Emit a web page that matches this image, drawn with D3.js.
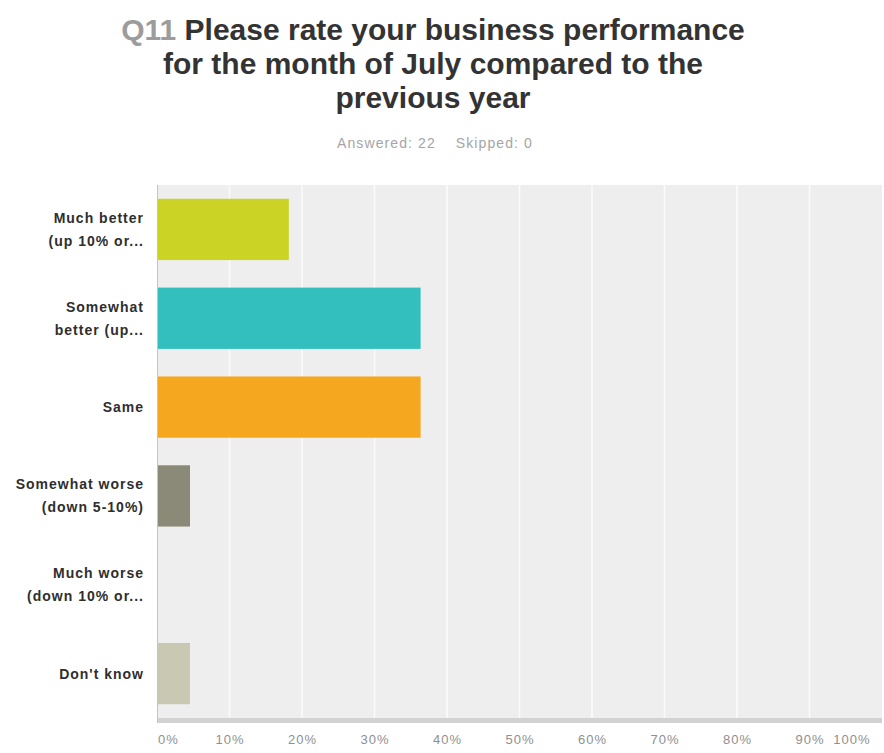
<!DOCTYPE html>
<html>
<head>
<meta charset="utf-8">
<script src="https://cdn.jsdelivr.net/npm/d3@7"></script>
<style>
  body { margin: 0; background: #fff; }
  text { font-family: "Liberation Sans", Arial, sans-serif; }
</style>
</head>
<body>
<div id="container"></div>
<script>
// answer choices, two lines each like the survey tool cuts them
const categories = [
  ["Much better", "(up 10% or..."],
  ["Somewhat", "better (up..."],
  ["Same"],
  ["Somewhat worse", "(down 5-10%)"],
  ["Much worse", "(down 10% or..."],
  ["Don't know"]
];
// share of the 22 answers, in percent
const values = [18.18, 36.36, 36.36, 4.55, 0, 4.55];
const colors = ["#cbd325", "#34bfbf", "#f5a81f", "#8b8a78", "#b5b5a0", "#c9c9b3"];
const ticks = [0, 10, 20, 30, 40, 50, 60, 70, 80, 90, 100];

const titleLines = ["Please rate your business performance", "for the month of July compared to the", "previous year"];
const subtitle = ["Answered: 22", "Skipped: 0"];

const W = 884, H = 753;
const plotLeft = 157, plotRight = 882, plotTop = 185, plotBottom = 718;

const svg = d3.select("#container")
  .append("svg")
  .attr("width", W)
  .attr("height", H);

// title
let title = svg.append("text")
  .attr("text-anchor", "middle")
  .attr("font-size", 30)
  .attr("font-weight", "bold")
  .attr("fill", "#333");
titleLines.forEach((line, i) => {
  let t = title.append("tspan")
    .attr("x", 433)
    .attr("y", 40 + i * 34);
  if (i == 0) {
    t.append("tspan").attr("fill", "#9c9c9c").text("Q11 ");
    t.append("tspan").text(line);
  } else {
    t.text(line);
  }
});

svg.append("text")
  .attr("x", 435)
  .attr("y", 148)
  .attr("text-anchor", "middle")
  .attr("font-size", 14)
  .attr("letter-spacing", 1.1)
  .attr("fill", "#a5a5a5")
  .text(subtitle.join("\u00a0\u00a0\u00a0\u00a0"));

let x = d3.scaleLinear().domain([0, 100]).range([plotLeft, plotRight]);
let y = d3.scaleBand()
  .domain(d3.range(categories.length))
  .range([plotTop, plotBottom])
  .paddingInner(0.31)
  .paddingOuter(0.155);

// grey plot background
svg.append("rect")
  .attr("x", plotLeft)
  .attr("y", plotTop)
  .attr("width", plotRight - plotLeft)
  .attr("height", plotBottom - plotTop)
  .attr("fill", "#eeeeee");

// vertical grid
svg.selectAll(".grid")
  .data(ticks.slice(1, -1))
  .enter()
  .append("line")
  .attr("class", "grid")
  .attr("x1", d => x(d))
  .attr("x2", d => x(d))
  .attr("y1", plotTop)
  .attr("y2", plotBottom)
  .attr("stroke", "#fbfbfb")
  .attr("stroke-width", 1.5);

// bars
svg.selectAll(".bar")
  .data(values)
  .enter()
  .append("rect")
  .attr("class", "bar")
  .attr("x", x(0))
  .attr("y", (d, i) => y(i))
  .attr("width", d => x(d) - x(0))
  .attr("height", y.bandwidth())
  .attr("fill", (d, i) => colors[i]);

// bottom band and left axis line
svg.append("rect")
  .attr("x", plotLeft)
  .attr("y", plotBottom)
  .attr("width", plotRight - plotLeft)
  .attr("height", 5)
  .attr("fill", "#d2d2d2");
svg.append("line")
  .attr("x1", plotLeft + 0.5)
  .attr("x2", plotLeft + 0.5)
  .attr("y1", plotTop)
  .attr("y2", plotBottom + 5)
  .attr("stroke", "#c4c4c4");

// category labels
let labels = svg.selectAll(".cat")
  .data(categories)
  .enter()
  .append("text")
  .attr("class", "cat")
  .attr("text-anchor", "end")
  .attr("font-size", 14)
  .attr("letter-spacing", 1)
  .attr("font-weight", "bold")
  .attr("fill", "#2e2e2e");
labels.each(function(d, i) {
  let cy = y(i) + y.bandwidth() / 2;
  d3.select(this).selectAll("tspan")
    .data(d)
    .enter()
    .append("tspan")
    .attr("x", 144)
    .attr("y", (s, j) => cy + 5 + (j - (d.length - 1) / 2) * 23)
    .text(s => s);
});

// x axis labels
let axis = d3.axisBottom(x)
  .tickValues(ticks)
  .tickFormat(d => d + "%")
  .tickSize(0)
  .tickPadding(0);
let axisG = svg.append("g")
  .attr("transform", `translate(0, 735)`)
  .call(axis);
axisG.select(".domain").remove();
axisG.selectAll("text")
  .attr("font-size", 13)
  .attr("letter-spacing", 1)
  .attr("fill", "#8f8f8f")
  .attr("font-family", "Liberation Sans, Arial, sans-serif");
axisG.selectAll(".tick").filter(d => d == 0).select("text").attr("dx", 11);
axisG.selectAll(".tick").filter(d => d == 100).select("text").attr("text-anchor", "end").attr("dx", -12);
</script>
</body>
</html>
